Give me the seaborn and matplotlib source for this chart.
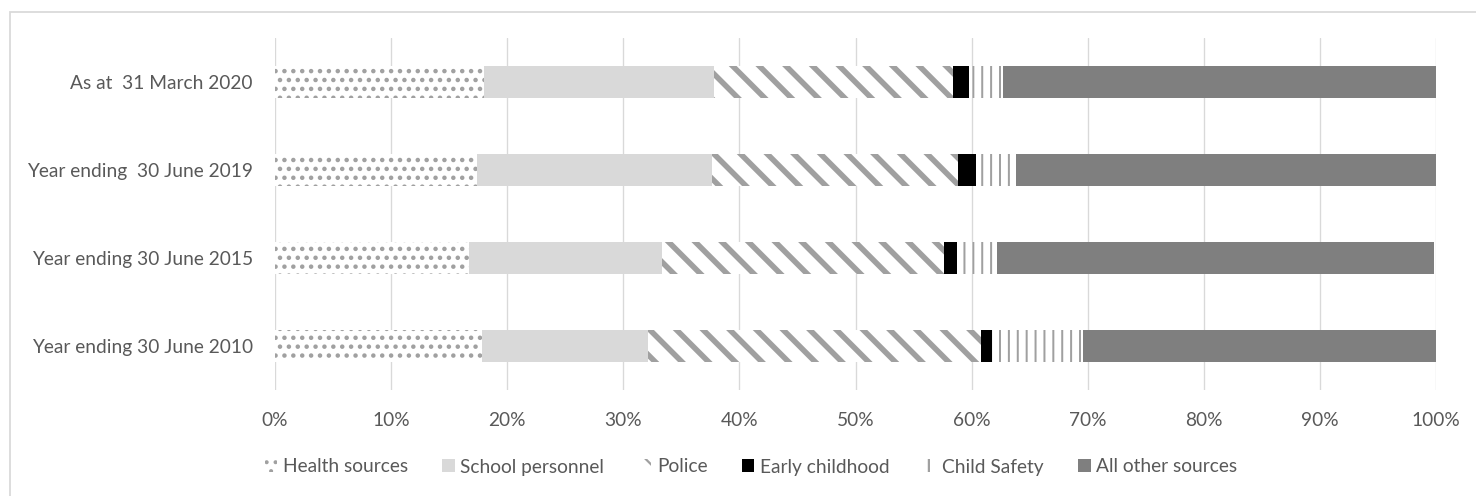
import matplotlib
matplotlib.use('Agg')
import matplotlib.pyplot as plt
import matplotlib.patches as mpatches
import numpy as np
import seaborn as sns

# data (percent of notifications by source)
periods = ['As at  31 March 2020', 'Year ending  30 June 2019',
           'Year ending 30 June 2015', 'Year ending 30 June 2010']
sources = ['Health sources', 'School personnel', 'Police',
           'Early childhood', 'Child Safety', 'All other sources']
health = [18.0, 17.4, 16.7, 17.8]
school = [19.8, 20.2, 16.6, 14.3]
police = [20.6, 21.2, 24.3, 28.7]
early = [1.4, 1.6, 1.1, 1.0]
child_safety = [2.9, 3.4, 3.5, 7.8]
other = [37.3, 36.2, 37.6, 30.4]

series = [health, school, police, early, child_safety, other]
faces = ['white', '#d9d9d9', 'white', 'black', 'white', '#7f7f7f']
hatches = ['...', None, '\\\\', None, '|||', None]
hatch_lw = [1.2, 1.0, 2.5, 1.0, 0.9, 1.0]
hatch_col = '#a0a0a0'

DPI = 160
sns.set_style('white')
plt.rcParams['font.family'] = ['Lato', 'DejaVu Sans']
plt.rcParams['text.color'] = '#595959'
plt.rcParams['xtick.color'] = '#595959'
plt.rcParams['ytick.color'] = '#595959'
fs = 8.6

fig = plt.figure(figsize=(1476 / DPI, 496 / DPI), dpi=DPI)
ax = fig.add_axes([275 / 1476, 1 - 390 / 496, (1436 - 275) / 1476, (390 - 38) / 496])

cum = np.cumsum(np.array(series), axis=0)
# draw from the right-most cumulative total backwards so each segment overlays
for i in range(len(series) - 1, -1, -1):
    with plt.rc_context({'hatch.linewidth': hatch_lw[i]}):
        sns.barplot(x=cum[i], y=periods, orient='h', color=faces[i], saturation=1,
                    width=0.36, hatch=hatches[i], edgecolor=hatch_col, linewidth=0,
                    ax=ax)

ax.set_xlim(0, 100)
ax.set_xticks(np.arange(0, 101, 10))
ax.set_xticklabels([f'{t}%' for t in range(0, 101, 10)], fontsize=fs)
ax.tick_params(axis='y', labelsize=fs, length=0, pad=10)
ax.tick_params(axis='x', length=0, pad=10)
ax.set_xlabel('')
ax.set_ylabel('')
ax.grid(axis='x', color='#d9d9d9', linewidth=0.6)
ax.grid(axis='y', visible=False)
ax.set_axisbelow(True)
for s in ax.spines.values():
    s.set_visible(False)

handles = []
for i, name in enumerate(sources):
    with plt.rc_context({'hatch.linewidth': hatch_lw[i]}):
        handles.append(mpatches.Patch(facecolor=faces[i], hatch=hatches[i],
                                      edgecolor=hatch_col, linewidth=0, label=name))
fig.legend(handles=handles, loc='center', bbox_to_anchor=(751 / 1476, 1 - 467 / 496),
           ncol=6, frameon=False, fontsize=fs, handlelength=0.65, handleheight=0.65,
           handletextpad=0.3, columnspacing=1.8)

# chart area border
fig.add_artist(mpatches.Rectangle((10 / 1476, -0.1), 1.2, 1 - 12 / 496 + 0.1,
                                  transform=fig.transFigure, fill=False,
                                  edgecolor='#d9d9d9', linewidth=0.8))

fig.savefig('out.png', dpi=DPI)
